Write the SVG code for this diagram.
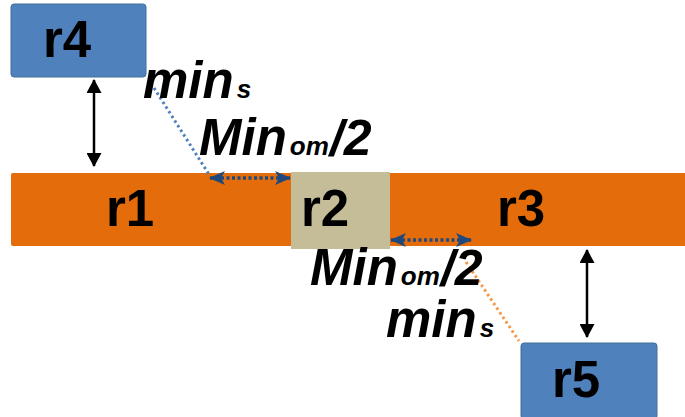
<svg xmlns="http://www.w3.org/2000/svg" width="685" height="417" viewBox="0 0 685 417">
  <defs>
    <style>
      .lbl { font-family: "Liberation Sans", Arial, sans-serif; font-weight: bold; font-size: 51px; fill: #000; }
      .math { font-family: "Liberation Sans", Arial, sans-serif; font-weight: bold; font-style: italic; fill: #000; }
      .big { font-size: 51px; }
      .sub { font-size: 26px; }
      .mid { font-size: 50px; }
      .blue { fill: #4F81BD; stroke: #41719C; stroke-width: 1; }
      .black-arrow { stroke: #000; stroke-width: 2.5; fill: none; }
      .gap { stroke: #1F497D; stroke-width: 3.5; stroke-dasharray: 3 2.5; fill: none; }
    </style>
    <marker id="blk" viewBox="0 0 14 15" refX="13" refY="7.5" markerWidth="14" markerHeight="15" markerUnits="userSpaceOnUse" orient="auto-start-reverse">
      <path d="M0,0 L14,7.5 L0,15 z" fill="#000"/>
    </marker>
    <marker id="stl" viewBox="0 0 16 14" refX="15" refY="7" markerWidth="16" markerHeight="14" markerUnits="userSpaceOnUse" orient="auto-start-reverse">
      <path d="M0,0 L16,7 L0,14 L4,7 z" fill="#1F497D"/>
    </marker>
  </defs>

  <!-- wide track carrying r1 and r3 -->
  <g id="r1">
    <rect x="11" y="173" width="380" height="73" rx="2" fill="#E46C0A"/>
    <text class="lbl" x="106" y="226">r1</text>
  </g>
  <g id="r3">
    <rect x="389" y="173" width="296" height="73" fill="#E46C0A"/>
    <text class="lbl" x="497" y="226">r3</text>
  </g>
  <g id="r2">
    <rect x="291" y="172" width="99" height="77" fill="#C4BD97"/>
    <text class="lbl" x="301" y="226">r2</text>
  </g>
  <g id="r4">
    <rect class="blue" x="11" y="4" width="135" height="73" rx="3"/>
    <text class="lbl" x="43" y="57">r4</text>
  </g>
  <g id="r5">
    <rect class="blue" x="521" y="343" width="136" height="76" rx="3"/>
    <text class="lbl" x="552" y="397">r5</text>
  </g>

  <g id="connectors">
    <!-- vertical spacing arrows -->
    <line class="black-arrow" x1="94" y1="80" x2="94" y2="166" marker-start="url(#blk)" marker-end="url(#blk)"/>
    <line class="black-arrow" x1="587" y1="250" x2="587" y2="337" marker-start="url(#blk)" marker-end="url(#blk)"/>
    <!-- half-spacing gaps around r2 -->
    <line class="gap" x1="210" y1="178" x2="290" y2="178" marker-start="url(#stl)" marker-end="url(#stl)"/>
    <line class="gap" x1="391" y1="240" x2="471" y2="240" marker-start="url(#stl)" marker-end="url(#stl)"/>
    <!-- leader lines -->
    <line x1="154" y1="88" x2="210" y2="176" stroke="#4F81BD" stroke-width="3" stroke-dasharray="2.5 3"/>
    <line x1="466" y1="262" x2="519" y2="341" stroke="#F79646" stroke-width="3" stroke-dasharray="2.5 3"/>
  </g>

  <g id="labels">
    <text class="math" x="143" y="98"><tspan class="big">min</tspan><tspan class="sub" dx="3">s</tspan></text>
    <text class="math" x="199" y="155"><tspan class="big">Min</tspan><tspan class="sub" dx="3">om</tspan><tspan class="mid" dx="1">/2</tspan></text>
    <text class="math" x="310" y="285"><tspan class="big">Min</tspan><tspan class="sub" dx="3">om</tspan><tspan class="mid" dx="1">/2</tspan></text>
    <text class="math" x="386" y="337"><tspan class="big">min</tspan><tspan class="sub" dx="3">s</tspan></text>
  </g>
</svg>
